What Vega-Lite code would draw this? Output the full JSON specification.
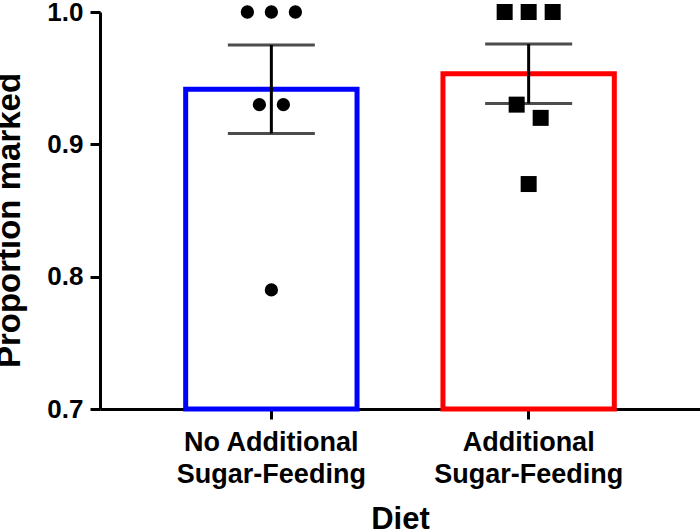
{
  "$schema": "https://vega.github.io/schema/vega-lite/v6.json",
  "width": 600,
  "height": 397,
  "autosize": {"type": "none"},
  "padding": {"left": 100, "top": 12, "right": 0, "bottom": 122},
  "background": "white",
  "config": {
    "view": {"stroke": null},
    "axis": {
      "domainColor": "black",
      "domainWidth": 3,
      "tickColor": "black",
      "tickWidth": 3,
      "tickSize": 10,
      "grid": false,
      "labelFont": "Liberation Sans",
      "labelFontWeight": "bold",
      "labelFontSize": 26,
      "labelColor": "black",
      "labelLimit": 500,
      "titleFont": "Liberation Sans",
      "titleFontWeight": "bold",
      "titleFontSize": 31,
      "titleColor": "black"
    }
  },
  "data": {
    "values": [
      {"diet": "No Additional Sugar-Feeding", "value": 1.0, "slot": -2},
      {"diet": "No Additional Sugar-Feeding", "value": 1.0, "slot": 0},
      {"diet": "No Additional Sugar-Feeding", "value": 1.0, "slot": 2},
      {"diet": "No Additional Sugar-Feeding", "value": 0.93, "slot": -1},
      {"diet": "No Additional Sugar-Feeding", "value": 0.93, "slot": 1},
      {"diet": "No Additional Sugar-Feeding", "value": 0.79, "slot": 0},
      {"diet": "Additional Sugar-Feeding", "value": 1.0, "slot": -2},
      {"diet": "Additional Sugar-Feeding", "value": 1.0, "slot": 0},
      {"diet": "Additional Sugar-Feeding", "value": 1.0, "slot": 2},
      {"diet": "Additional Sugar-Feeding", "value": 0.93, "slot": -1},
      {"diet": "Additional Sugar-Feeding", "value": 0.92, "slot": 1},
      {"diet": "Additional Sugar-Feeding", "value": 0.87, "slot": 0}
    ]
  },
  "encoding": {
    "x": {
      "field": "diet",
      "type": "nominal",
      "sort": ["No Additional Sugar-Feeding", "Additional Sugar-Feeding"],
      "scale": {"paddingInner": 0.334, "paddingOuter": 0.333},
      "axis": {
        "title": "Diet",
        "labelAngle": 0,
        "labelPadding": 10,
        "labelFontSize": 27,
        "labelLineHeight": 32,
        "labelExpr": "datum.label == 'No Additional Sugar-Feeding' ? ['No Additional', 'Sugar-Feeding'] : ['Additional', 'Sugar-Feeding']",
        "titleBaseline": "alphabetic",
        "titleY": 119
      }
    }
  },
  "resolve": {"scale": {"xOffset": "independent"}},
  "layer": [
    {
      "layer": [
        {
          "mark": {"type": "bar", "fill": "white", "strokeWidth": 5},
          "encoding": {
            "y": {
              "aggregate": "mean",
              "field": "value",
              "type": "quantitative",
              "scale": {"domain": [0.7, 1.0], "zero": false, "nice": false},
              "axis": {
                "title": "Proportion marked",
                "values": [0.7, 0.8, 0.9, 1.0],
                "format": ".1f",
                "labelPadding": 7,
                "titleFontSize": 33,
                "titleBaseline": "alphabetic",
                "titleX": -81,
                "titleY": 208
              }
            },
            "y2": {"datum": 0.7},
            "stroke": {
              "field": "diet",
              "type": "nominal",
              "scale": {"domain": ["No Additional Sugar-Feeding", "Additional Sugar-Feeding"], "range": ["#0000ff", "#ff0000"]},
              "legend": null
            }
          }
        },
        {
          "mark": {"type": "errorbar", "extent": "stderr", "ticks": true, "thickness": 3, "size": 87, "color": "black"},
          "encoding": {
            "y": {"field": "value", "type": "quantitative", "title": "Proportion marked"}
          }
        }
      ]
    },
    {
      "mark": {"type": "point", "filled": true, "opacity": 1, "color": "black"},
      "encoding": {
        "y": {"field": "value", "type": "quantitative", "title": "Proportion marked"},
        "xOffset": {"field": "slot", "type": "quantitative", "scale": {"domain": [-2, 2], "range": [61.7, 109.7]}},
        "shape": {
          "field": "diet",
          "type": "nominal",
          "scale": {"domain": ["No Additional Sugar-Feeding", "Additional Sugar-Feeding"], "range": ["circle", "square"]},
          "legend": null
        },
        "size": {
          "field": "diet",
          "type": "nominal",
          "scale": {"domain": ["No Additional Sugar-Feeding", "Additional Sugar-Feeding"], "range": [177, 256]},
          "legend": null
        }
      }
    }
  ]
}
